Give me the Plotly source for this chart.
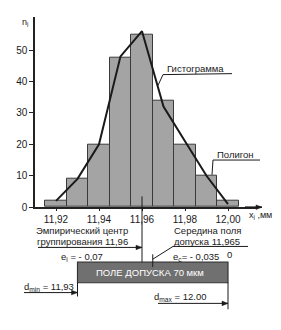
import plotly.graph_objects as go

# ---- data ----
bin_centers = [11.92, 11.93, 11.94, 11.95, 11.96, 11.97, 11.98, 11.99, 12.00]
hist_counts = [2, 9, 20, 47.5, 55, 34, 20, 10, 2]
polygon_x = [11.92, 11.93, 11.94, 11.95, 11.96, 11.97, 11.98, 11.99, 12.00]
polygon_counts = [2, 9, 20, 48, 56, 32, 21, 10, 1]
bin_width = 0.01
x_tickvals = [11.92, 11.94, 11.96, 11.98, 12.00]
x_ticktext = ["11,92", "11,94", "11,96", "11,98", "12,00"]
y_tickvals = [0, 10, 20, 30, 40, 50]
d_min = 11.93
d_max = 12.00
emp_center = 11.96
tol_mid = 11.965

W, H = 281, 330
FONT = "Liberation Sans, Arial, sans-serif"
PXU = 2150.0                 # pixels per mm on the x scale
X0 = 11.92 - 56 / PXU        # value at left page edge
X1 = X0 + W / PXU

def vx(px):
    return X0 + px / PXU

fig = go.Figure()
fig.add_trace(go.Bar(
    x=bin_centers, y=hist_counts, width=bin_width,
    marker=dict(color="#a4a4a4", line=dict(color="#3a3a3a", width=1)),
    xaxis="x", yaxis="y", showlegend=False))
fig.add_trace(go.Scatter(
    x=polygon_x, y=polygon_counts, mode="lines",
    line=dict(color="#1a1a1a", width=2), xaxis="x", yaxis="y", showlegend=False))
fig.add_trace(go.Scatter(x=[], y=[], xaxis="x2", yaxis="y2", showlegend=False))

fig.update_layout(
    width=W, height=H, margin=dict(l=0, r=0, t=0, b=0),
    paper_bgcolor="white", plot_bgcolor="rgba(0,0,0,0)",
    font=dict(family=FONT, size=10, color="#1a1a1a"),
    bargap=0,
    xaxis=dict(domain=[35 / W, 257 / W], range=[vx(35), vx(257)], anchor="y",
               tickvals=x_tickvals, ticktext=x_ticktext, ticks="outside", ticklen=2,
               tickcolor="#222", showline=True, linecolor="#222", linewidth=1.5,
               showgrid=False, zeroline=False, tickfont=dict(size=10)),
    yaxis=dict(domain=[(H - 211) / H, (H - 17) / H], range=[0, (211 - 17) / 3.2], anchor="x",
               tickvals=y_tickvals, ticks="outside", ticklen=4, tickcolor="#222",
               showline=True, linecolor="#222", linewidth=1.5, showgrid=False,
               zeroline=False, tickfont=dict(size=10)),
    xaxis2=dict(domain=[0, 1], range=[X0, X1], anchor="y2", visible=False),
    yaxis2=dict(domain=[0, 1], range=[H, 0], anchor="x2", visible=False),
)

def line(x0, y0, x1, y1, w=1, c="#1a1a1a"):
    fig.add_shape(type="line", x0=x0, y0=y0, x1=x1, y1=y1, xref="x2", yref="y2",
                  line=dict(color=c, width=w))

def text(x, y, s, size=10, color="#1a1a1a", xanchor="center"):
    fig.add_annotation(x=x, y=y, xref="x2", yref="y2", text=s, showarrow=False,
                       borderpad=0,
                       font=dict(size=size, color=color, family=FONT), xanchor=xanchor)

def arrow_right(xh, y, xt, w=1):
    line(xt, y, xh, y, w=w)
    L, h = 6 / PXU, 2.3
    fig.add_shape(type="path", xref="x2", yref="y2",
                  path=f"M {xh - L} {y - h} L {xh} {y} L {xh - L} {y + h} Z",
                  fillcolor="#1a1a1a", line=dict(color="#1a1a1a", width=0.5))

# axis labels
text(vx(25), 23, "n<sub>i</sub>", size=9)
text(vx(260), 219, "x<sub>i</sub> ,мм", size=9)
arrow_right(vx(262), 211, vx(245), w=1.5)

# histogram / polygon callouts
text(vx(195), 70, "Гистограмма", size=9.5)
line(vx(163), 76, vx(232), 75)
line(vx(163), 76, vx(158), 87)
text(vx(235), 157, "Полигон", size=9.5)
line(vx(213), 163, vx(260), 163)
line(vx(213), 163, vx(212), 178)

# empirical center
line(emp_center, 200, emp_center, 272)
text(vx(82), 235, "Эмпирический центр", size=9.5)
text(vx(82), 245.5, "группирования 11,96", size=9.5)
arrow_right(emp_center, 252, vx(38))
text(vx(82), 262, "e<sub>i</sub> = - 0,07", size=9.5)

# tolerance field
fig.add_shape(type="rect", x0=d_min, x1=d_max, y0=267, y1=288, xref="x2", yref="y2",
              fillcolor="#707070", line=dict(color="#333", width=1.2), layer="above")
text((d_min + d_max) / 2 - 3 / PXU, 277.5, "ПОЛЕ ДОПУСКА 70 мкм", size=9.5, color="white")

# middle of tolerance field
text(vx(207), 235, "Середина поля", size=9.5)
text(vx(207), 245.5, "допуска 11,965", size=9.5)
line(vx(173), 251, vx(248), 251)
line(vx(173), 251, tol_mid, 264)
line(tol_mid, 259, tol_mid, 272)
text(vx(196), 262, "e<sub>c</sub>= - 0,035", size=9.5)
text(vx(229), 259, "0", size=9.5)

# d_min / d_max
text(vx(49), 292, "d<sub>min</sub> = 11,93", size=9.5)
arrow_right(d_min, 298, vx(24))
line(d_min, 288, d_min, 302)
text(vx(180), 302, "d<sub>max</sub> = 12.00", size=9.5)
arrow_right(d_max, 309, vx(158))
line(d_max, 288, d_max, 315)

fig.write_html("out.html")
